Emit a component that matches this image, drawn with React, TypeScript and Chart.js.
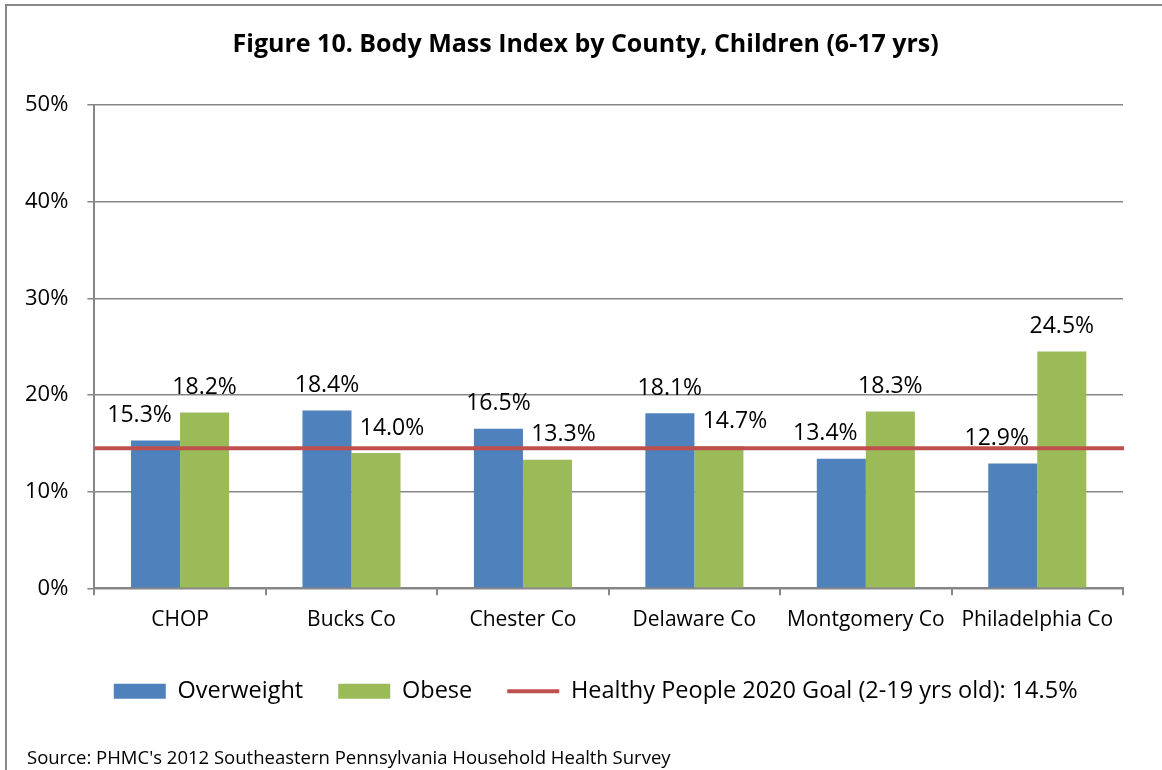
import React, { useEffect, useRef } from "react";
import { Chart, registerables } from "chart.js";

Chart.register(...registerables);

const categories = ["CHOP", "Bucks Co", "Chester Co", "Delaware Co", "Montgomery Co", "Philadelphia Co"];
const overweight = [15.3, 18.4, 16.5, 18.1, 13.4, 12.9];
const obese = [18.2, 14.0, 13.3, 14.7, 18.3, 24.5];
const goal = 14.5;
const seriesNames = ["Overweight", "Obese", "Healthy People 2020 Goal (2-19 yrs old): 14.5%"];
const yMin = 0;
const yMax = 50;
const yStep = 10;
const titleText = "Figure 10. Body Mass Index by County, Children (6-17 yrs)";
const sourceText = "Source: PHMC's 2012 Southeastern Pennsylvania Household Health Survey";

const BLUE = "#4F81BD";
const GREEN = "#9BBB59";
const RED = "#C0504D";
const GRAY = "#878787";
const FONT = "'Open Sans'";

// goal line across the whole plot, drawn through the y scale
const goalLinePlugin = {
  id: "goalLine",
  afterDatasetsDraw(chart: any) {
    const { ctx, chartArea, scales } = chart;
    const y = scales.y.getPixelForValue(goal);
    ctx.save();
    ctx.strokeStyle = RED;
    ctx.lineWidth = 4;
    ctx.beginPath();
    ctx.moveTo(chartArea.left, y);
    ctx.lineTo(chartArea.right + 1, y);
    ctx.stroke();
    ctx.restore();
  },
};

const dataLabelPlugin = {
  id: "dataLabels",
  afterDatasetsDraw(chart: any) {
    const ctx = chart.ctx;
    ctx.save();
    ctx.font = `23px ${FONT}`;
    ctx.fillStyle = "#000";
    ctx.textAlign = "center";
    ctx.textBaseline = "middle";
    [0, 1].forEach((di) => {
      const meta = chart.getDatasetMeta(di);
      const values = chart.data.datasets[di].data as number[];
      meta.data.forEach((bar: any, i: number) => {
        const v = values[i];
        let dx = 0;
        if (v < goal + 1.5) dx = di === 0 ? -16 : 16;
        ctx.fillText(v.toFixed(1) + "%", bar.x + dx, bar.y - 25);
      });
    });
    ctx.restore();
  },
};

// Excel centres the title and legend on the whole chart box, not on the axis box
const centerShiftPlugin = {
  id: "centerShift",
  afterLayout(chart: any) {
    const mid = (chart.chartArea.left + chart.chartArea.right) / 2;
    const shiftBlock = (b: any, target: number) => {
      if (!b) return;
      const d = target - (b.left + b.right) / 2;
      b.left += d;
      b.right += d;
    };
    shiftBlock(chart.titleBlock, mid - 23);
    shiftBlock(chart.legend, mid - 13);
  },
};

export default function App() {
  const canvasRef = useRef<HTMLCanvasElement | null>(null);

  useEffect(() => {
    if (!canvasRef.current) return;
    Chart.defaults.font.family = FONT;
    const chart = new Chart(canvasRef.current, {
      type: "bar",
      data: {
        labels: categories,
        datasets: [
          {
            label: seriesNames[0],
            data: overweight,
            backgroundColor: BLUE,
          },
          {
            label: seriesNames[1],
            data: obese,
            backgroundColor: GREEN,
          },
        ],
      },
      options: {
        animation: false,
        responsive: false,
        maintainAspectRatio: false,
        datasets: { bar: { categoryPercentage: 0.572, barPercentage: 1.0 } },
        layout: { padding: { left: 6, right: 39, top: 0, bottom: 57 } },
        plugins: {
          title: {
            display: true,
            text: titleText,
            color: "#000",
            font: { size: 25, weight: "bold", family: FONT },
            padding: { top: 30, bottom: 45 },
          },
          legend: {
            position: "bottom",
            labels: {
              color: "#000",
              font: { size: 23.5, family: FONT },
              usePointStyle: true,
              pointStyleWidth: 52,
              boxHeight: 15,
              padding: 35,
              generateLabels: (c: any) => [
                ...c.data.datasets.map((ds: any, i: number) => ({
                  text: ds.label,
                  fillStyle: ds.backgroundColor,
                  strokeStyle: ds.backgroundColor,
                  lineWidth: 0,
                  pointStyle: "rect",
                  hidden: false,
                  datasetIndex: i,
                  fontColor: "#000",
                })),
                {
                  text: seriesNames[2],
                  fillStyle: RED,
                  strokeStyle: RED,
                  lineWidth: 4,
                  pointStyle: "line",
                  hidden: false,
                  fontColor: "#000",
                },
              ],
            },
            onClick: () => {},
          },
          tooltip: { enabled: false },
        },
        scales: {
          x: {
            type: "category",
            grid: {
              display: true,
              drawOnChartArea: false,
              drawTicks: true,
              tickLength: 7,
              color: GRAY,
              lineWidth: 2,
              offset: true,
            },
            border: { display: true, color: GRAY, width: 2 },
            ticks: { color: "#000", font: { size: 21, family: FONT }, padding: 12, maxRotation: 0 },
          },
          y: {
            min: yMin,
            max: yMax,
            ticks: {
              stepSize: yStep,
              color: "#000",
              font: { size: 22, family: FONT },
              padding: 19,
              callback: (v: any) => v + "%",
            },
            grid: { color: GRAY, lineWidth: 1.5, tickLength: 7 },
            border: { display: true, color: GRAY, width: 2 },
          },
        },
      },
      plugins: [goalLinePlugin, dataLabelPlugin, centerShiftPlugin],
    });
    return () => chart.destroy();
  }, []);

  return (
    <div style={{ position: "fixed", left: 0, top: 0, width: 1162, height: 770, background: "#fff", overflow: "hidden" }}>
      <div
        style={{
          position: "absolute",
          left: 5,
          top: 4,
          width: 1200,
          height: 900,
          border: "2px solid #888",
          boxSizing: "border-box",
        }}
      />
      <canvas ref={canvasRef} width={1162} height={770} style={{ position: "absolute", left: 0, top: 0 }} />
      <div
        style={{
          position: "absolute",
          left: 27,
          top: 744,
          fontFamily: FONT,
          fontSize: 18.5,
          color: "#000",
          whiteSpace: "nowrap",
        }}
      >
        {sourceText}
      </div>
    </div>
  );
}
